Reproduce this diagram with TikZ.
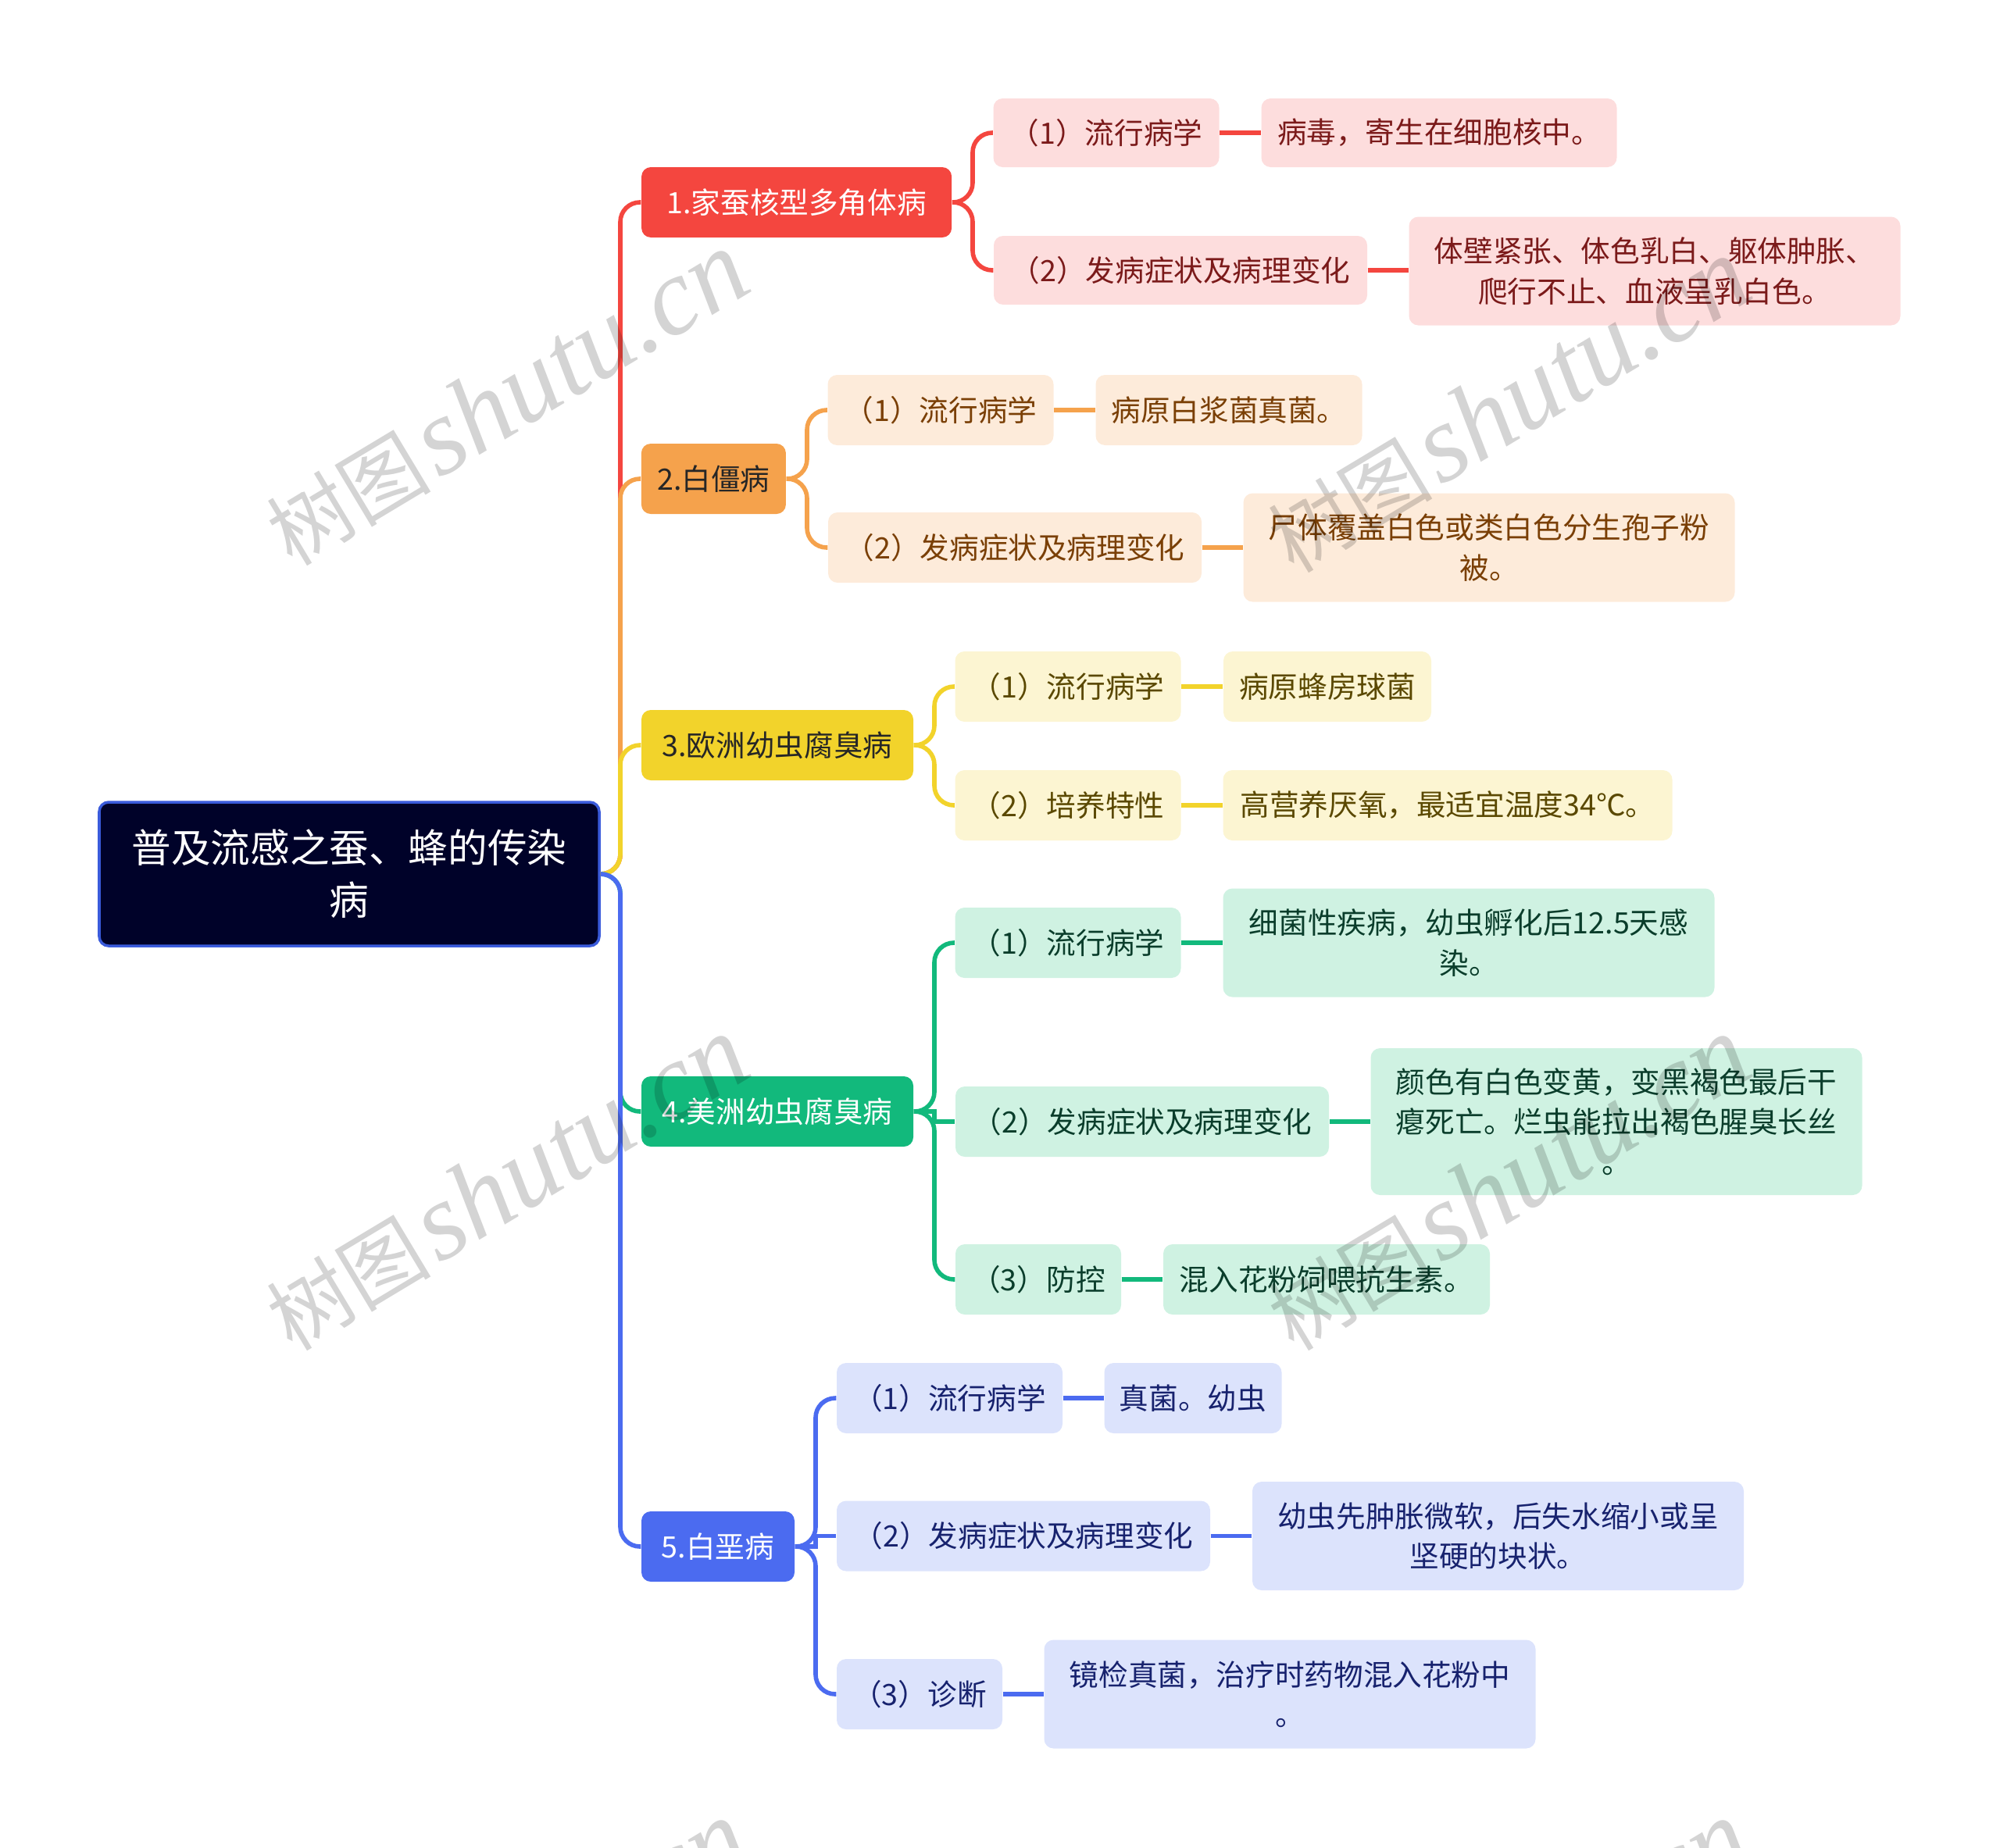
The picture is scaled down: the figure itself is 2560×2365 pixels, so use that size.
\documentclass[tikz,border=0pt]{standalone}
\usepackage{fontspec}
\setmainfont{Noto Sans CJK SC}
\newfontfamily\wmlatin{Liberation Serif}
\usetikzlibrary{calc}
\definecolor{cR}{HTML}{F4463F}
\definecolor{cO}{HTML}{F5A24C}
\definecolor{cY}{HTML}{F2D32B}
\definecolor{cG}{HTML}{12B97C}
\definecolor{cB}{HTML}{4B6BF0}
\definecolor{lR}{HTML}{FDDDDD}
\definecolor{lO}{HTML}{FDEBDA}
\definecolor{lY}{HTML}{FCF5D2}
\definecolor{lG}{HTML}{CFF2E2}
\definecolor{lB}{HTML}{DCE3FC}
\definecolor{tR}{HTML}{7B1A1A}
\definecolor{tO}{HTML}{7A3F05}
\definecolor{tY}{HTML}{5A4800}
\definecolor{tG}{HTML}{0A3D2B}
\definecolor{tB}{HTML}{17226E}
\definecolor{rootfill}{HTML}{000229}
\definecolor{rootborder}{HTML}{3A5BDB}
\newcommand\mnode[6]{\node[#1, minimum width={#4*0.01cm}, minimum height={#5*0.01cm}] (#2) at (#3) {#6};}
\tikzset{
  base/.style={rounded corners=0.12cm, inner sep=0pt, align=center, font=\fontsize{10.7}{14.6}\selectfont},
  rootbox/.style={base, fill=rootfill, draw=rootborder, line width=1pt, text=white, font=\fontsize{14.4}{19}\selectfont},
  brR/.style={base, fill=cR, text=white},
  brO/.style={base, fill=cO, text=black!85},
  brY/.style={base, fill=cY, text=black!85},
  brG/.style={base, fill=cG, text=white},
  brB/.style={base, fill=cB, text=white},
  chR/.style={base, fill=lR, text=tR},
  chO/.style={base, fill=lO, text=tO},
  chY/.style={base, fill=lY, text=tY},
  chG/.style={base, fill=lG, text=tG},
  chB/.style={base, fill=lB, text=tB},
  link/.style={line width=1.6pt, rounded corners=0.25cm},
  wm/.style={rotate=31, text=black, text opacity=0.17, inner sep=0pt}
}
\begin{document}
\begin{tikzpicture}[x=0.01cm, y=-0.01cm]
\useasboundingbox (0,0) rectangle (2560,2365);
% nodes
\mnode{rootbox}{r}{447,1119}{640}{184}{普及流感之蚕、蜂的传染\\病}
\mnode{brR}{b1}{1019.6,259}{397}{90}{1.家蚕核型多角体病}
\mnode{brO}{b2}{913.4,613}{185}{90}{2.白僵病}
\mnode{brY}{b3}{995,954}{348}{90}{3.欧洲幼虫腐臭病}
\mnode{brG}{b4}{995,1423}{348}{90}{4.美洲幼虫腐臭病}
\mnode{brB}{b5}{919,1980}{196}{90}{5.白垩病}
% branch 1
\mnode{chR}{c11}{1416,170}{289}{88}{（1）流行病学}
\mnode{chR}{c12}{1842,170}{455}{88}{病毒，寄生在细胞核中。}
\mnode{chR}{c13}{1511,346}{478}{88}{（2）发病症状及病理变化}
\mnode{chR}{c14}{2118,347}{629}{139}{体壁紧张、体色乳白、躯体肿胀、\\爬行不止、血液呈乳白色。}
% branch 2
\mnode{chO}{c21}{1204,525}{289}{90}{（1）流行病学}
\mnode{chO}{c22}{1573,525}{341}{90}{病原白浆菌真菌。}
\mnode{chO}{c23}{1299,701}{478}{90}{（2）发病症状及病理变化}
\mnode{chO}{c24}{1906,701}{629}{139}{尸体覆盖白色或类白色分生孢子粉\\被。}
% branch 3
\mnode{chY}{c31}{1367,879}{289}{90}{（1）流行病学}
\mnode{chY}{c32}{1699,879}{266}{90}{病原蜂房球菌}
\mnode{chY}{c33}{1367,1031}{289}{90}{（2）培养特性}
\mnode{chY}{c34}{1853,1031}{575}{90}{高营养厌氧，最适宜温度34℃。}
% branch 4
\mnode{chG}{c41}{1367,1207}{289}{90}{（1）流行病学}
\mnode{chG}{c42}{1880,1207}{629}{139}{细菌性疾病，幼虫孵化后12.5天感\\染。}
\mnode{chG}{c43}{1462,1436}{478}{90}{（2）发病症状及病理变化}
\mnode{chG}{c44}{2069,1436}{629}{188}{颜色有白色变黄，变黑褐色最后干\\瘪死亡。烂虫能拉出褐色腥臭长丝\\。}
\mnode{chG}{c45}{1329,1638}{212}{90}{（3）防控}
\mnode{chG}{c46}{1698,1638}{418}{90}{混入花粉饲喂抗生素。}
% branch 5
\mnode{chB}{c51}{1215.5,1790}{289}{90}{（1）流行病学}
\mnode{chB}{c52}{1527,1790}{227}{90}{真菌。幼虫}
\mnode{chB}{c53}{1310,1966.5}{478}{90}{（2）发病症状及病理变化}
\mnode{chB}{c54}{1917.5,1966.5}{629}{139}{幼虫先肿胀微软，后失水缩小或呈\\坚硬的块状。}
\mnode{chB}{c55}{1177,2169}{212}{90}{（3）诊断}
\mnode{chB}{c56}{1651,2169}{629}{139}{镜检真菌，治疗时药物混入花粉中\\。}
% trunk connectors
\draw[link, cR] (r.east) -- (794,1119) |- (b1.west);
\draw[link, cO] (r.east) -- (794,1119) |- (b2.west);
\draw[link, cY] (r.east) -- (794,1119) |- (b3.west);
\draw[link, cG] (r.east) -- (794,1119) |- (b4.west);
\draw[link, cB] (r.east) -- (794,1119) |- (b5.west);
% branch 1
\draw[link, cR] (b1.east) -- (1245,259) |- (c11.west);
\draw[link, cR] (b1.east) -- (1245,259) |- (c13.west);
\draw[link, cR] (c11.east) -- (c12.west |- c11.east);
\draw[link, cR] (c13.east) -- (c14.west |- c13.east);
% branch 2
\draw[link, cO] (b2.east) -- (1033,613) |- (c21.west);
\draw[link, cO] (b2.east) -- (1033,613) |- (c23.west);
\draw[link, cO] (c21.east) -- (c22.west |- c21.east);
\draw[link, cO] (c23.east) -- (c24.west |- c23.east);
% branch 3
\draw[link, cY] (b3.east) -- (1196,954) |- (c31.west);
\draw[link, cY] (b3.east) -- (1196,954) |- (c33.west);
\draw[link, cY] (c31.east) -- (c32.west |- c31.east);
\draw[link, cY] (c33.east) -- (c34.west |- c33.east);
% branch 4
\draw[link, cG] (b4.east) -- (1196,1423) |- (c41.west);
\draw[link, cG, sharp corners] (b4.east) -- (1196,1423) |- (c43.west);
\draw[link, cG] (b4.east) -- (1196,1423) |- (c45.west);
\draw[link, cG] (c41.east) -- (c42.west |- c41.east);
\draw[link, cG] (c43.east) -- (c44.west |- c43.east);
\draw[link, cG] (c45.east) -- (c46.west |- c45.east);
% branch 5
\draw[link, cB] (b5.east) -- (1044,1980) |- (c51.west);
\draw[link, cB, sharp corners] (b5.east) -- (1044,1980) |- (c53.west);
\draw[link, cB] (b5.east) -- (1044,1980) |- (c55.west);
\draw[link, cB] (c51.east) -- (c52.west |- c51.east);
\draw[link, cB] (c53.east) -- (c54.west |- c53.east);
\draw[link, cB] (c55.east) -- (c56.west |- c55.east);
% watermarks
\begin{scope}
\clip (0,0) rectangle (2560,2365);
\foreach \p [count=\i] in {{648,510},{1930,519},{648,1515},{1930,1515},{648,2519},{1930,2519}}{
  \node[wm] (wm\i) at (\p) {{\fontsize{30}{30}\selectfont 树图}\hspace{0.25em}{\wmlatin\itshape\fontsize{40}{40}\selectfont shutu.cn}};
}
\end{scope}
\end{tikzpicture}
\end{document}
